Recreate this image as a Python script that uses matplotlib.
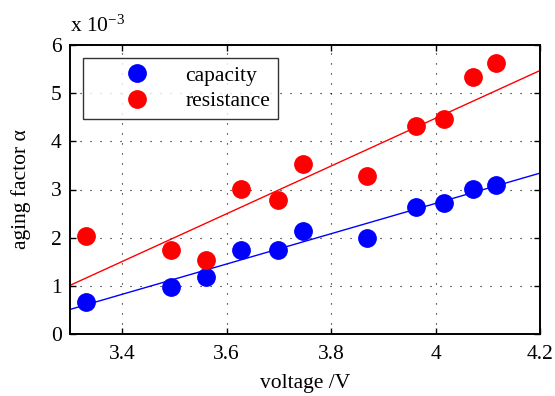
import numpy as np
import matplotlib
matplotlib.use("Agg")
import matplotlib.pyplot as plt

# voltage of each cell (V)
voltage = [3.330, 3.4925, 3.561, 3.628, 3.699, 3.747, 3.868, 3.963, 4.017, 4.071, 4.116]
# aging factors, in units of 1e-3
capacity = [0.66, 0.97, 1.18, 1.74, 1.74, 2.14, 1.99, 2.63, 2.72, 3.01, 3.09]
resistance = [2.03, 1.74, 1.53, 3.01, 2.78, 3.53, 3.28, 4.32, 4.46, 5.34, 5.63]

# linear fits at the axis ends
fit_x = [3.3, 4.2]
capacity_fit = [0.51, 3.34]
resistance_fit = [1.01, 5.47]

plt.rcParams["font.family"] = ["Liberation Serif", "DejaVu Serif"]
plt.rcParams["font.size"] = 15.5
plt.rcParams["mathtext.fontset"] = "custom"
plt.rcParams["mathtext.rm"] = "Liberation Serif"
plt.rcParams["mathtext.it"] = "Liberation Serif:italic"

fig = plt.figure(figsize=(5.55, 3.96), dpi=100)
ax = fig.add_axes([70 / 555, 1 - 334 / 396, 470 / 555, 289 / 396])

ax.plot(fit_x, capacity_fit, color="#0000ff", lw=1.0)
ax.plot(fit_x, resistance_fit, color="#ff0000", lw=1.0)
ax.plot(voltage, capacity, "o", color="#0000ff", ms=12.5, mec="#0000ff", label="capacity", clip_on=False, zorder=3)
ax.plot(voltage, resistance, "o", color="#ff0000", ms=12.5, mec="#ff0000", label="resistance", clip_on=False, zorder=3)

ax.set_xlim(3.3, 4.2)
ax.set_ylim(0, 6)
ax.set_xticks([3.4, 3.6, 3.8, 4.0, 4.2])
ax.set_xticklabels(["3.4", "3.6", "3.8", "4", "4.2"])
ax.set_yticks(range(7))

ax.grid(True, color="black", linestyle=(0, (1, 8)), linewidth=0.8)
ax.tick_params(direction="in", top=True, right=True, length=4, width=1)
ax.tick_params(axis="x", pad=8)
ax.tick_params(axis="y", pad=6)
for s in ax.spines.values():
    s.set_linewidth(1.4)

ax.set_xlabel("voltage /V", labelpad=7)
ax.set_ylabel("aging factor α", labelpad=14)
fig.text(70 / 555, 1 - 26 / 396, r"x 10$^{-3}$", ha="left", va="center", fontsize=15.5)

leg = ax.legend(loc="upper left", bbox_to_anchor=(13 / 470, 1 - 13 / 289), frameon=True,
                fancybox=False, edgecolor="black", borderpad=0.35, borderaxespad=0,
                handletextpad=0.1, labelspacing=0.25, handlelength=4.3)
leg.get_frame().set_linewidth(1.0)

fig.savefig("out.png", dpi=100)
